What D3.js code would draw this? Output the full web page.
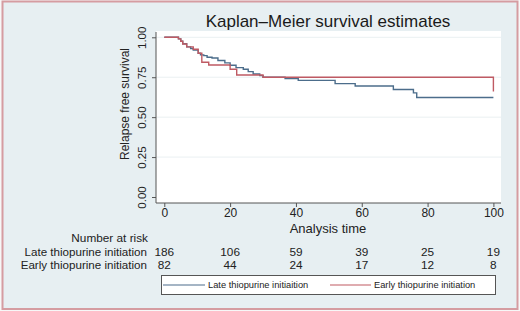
<!DOCTYPE html>
<html>
<head>
<meta charset="utf-8">
<script src="https://cdn.jsdelivr.net/npm/d3@7"></script>
<style>
  html, body { margin: 0; padding: 0; background: #ffffff; }
  svg { display: block; }
  text { font-family: "Liberation Sans", Arial, sans-serif; }
</style>
</head>
<body>
<svg id="chart" width="520" height="311"></svg>
<script>
// ---- Data ----
const title = "Kaplan\u2013Meier survival estimates";
const xTicks = [0, 20, 40, 60, 80, 100];
const yTicks = [0, 0.25, 0.5, 0.75, 1];
const seriesNames = ["Late thiopurine initiaition", "Early thiopurine initiation"];
const riskLabels = ["Late thiopurine initiation", "Early thiopurine initiation"];
const lateAtRisk = [186, 106, 59, 39, 25, 19];
const earlyAtRisk = [82, 44, 24, 17, 12, 8];

const lateTimes = [0, 4.3, 5.0, 5.6, 6.8, 8.0, 8.8, 10.3, 11.0, 12.0, 13.0, 14.5, 16.3, 18.4, 20.0, 21.8, 24.0, 25.5, 27.0, 29.0, 30.0, 36.7, 40.7, 51.9, 58.0, 69.6, 75.7, 76.7, 100];
const lateSurv  = [1.0, 0.99, 0.975, 0.96, 0.94, 0.93, 0.92, 0.90, 0.89, 0.885, 0.875, 0.87, 0.855, 0.84, 0.825, 0.81, 0.80, 0.785, 0.77, 0.76, 0.75, 0.742, 0.73, 0.71, 0.695, 0.673, 0.652, 0.623, 0.623];

const earlyTimes = [0, 4.3, 5.0, 5.6, 6.8, 8.8, 10.3, 11.4, 13.5, 20.0, 22.0, 30.0, 100, 100];
const earlySurv  = [1.0, 0.99, 0.975, 0.958, 0.94, 0.925, 0.90, 0.844, 0.827, 0.80, 0.764, 0.75, 0.75, 0.66];

// ---- Layout ----
const svg = d3.select("#chart");
const W = 520, H = 311;
const plot = { left: 156, right: 501, top: 31, bottom: 203 };

const x = d3.scaleLinear().domain([0, 100]).range([164.3, 493.4]);
const y = d3.scaleLinear().domain([0, 1]).range([197, 37.3]);

// background
svg.append("rect").attr("x", 0).attr("y", 0).attr("width", W).attr("height", H).attr("fill", "#f7f7f7");
svg.append("rect").attr("x", 2.5).attr("y", 1.5).attr("width", 515).attr("height", 307.5)
  .attr("fill", "#e7eff2").attr("stroke", "#d59ca1").attr("stroke-width", 2);

// plot area
svg.append("rect").attr("x", plot.left).attr("y", plot.top)
  .attr("width", plot.right - plot.left).attr("height", plot.bottom - plot.top)
  .attr("fill", "#ffffff");

// gridlines
svg.append("g").selectAll("line").data(yTicks.filter(d => d > 0)).join("line")
  .attr("x1", plot.left).attr("x2", plot.right)
  .attr("y1", d => y(d)).attr("y2", d => y(d))
  .attr("stroke", "#eaf0f2").attr("stroke-width", 1);

// title
svg.append("text").attr("x", 328).attr("y", 26.5).attr("text-anchor", "middle")
  .attr("font-size", 17).attr("fill", "#1a1a1a").text(title);

// y axis
const yAxis = d3.axisLeft(y).tickValues(yTicks).tickFormat(d3.format(".2f")).tickSize(4).tickPadding(3);
const gy = svg.append("g").attr("transform", `translate(${plot.left},0)`).call(yAxis);
gy.select(".domain").attr("d", `M0,${plot.top + 1}V${plot.bottom}`).attr("stroke", "#555");
gy.selectAll(".tick line").attr("stroke", "#555");
gy.selectAll(".tick text")
  .attr("x", 0).attr("y", 0).attr("dy", null)
  .attr("text-anchor", "middle").attr("font-size", 11.5).attr("fill", "#222")
  .attr("transform", "translate(-10.5,0) rotate(-90)");

// x axis
const xAxis = d3.axisBottom(x).tickValues(xTicks).tickSize(4).tickPadding(1);
const gx = svg.append("g").attr("transform", `translate(0,${plot.bottom})`).call(xAxis);
gx.select(".domain").attr("d", `M${plot.left},0H${plot.right}`).attr("stroke", "#555");
gx.selectAll(".tick line").attr("stroke", "#555");
gx.selectAll(".tick text").attr("font-size", 12).attr("fill", "#222");

// axis titles
svg.append("text").attr("transform", "translate(128.5,104) rotate(-90)")
  .attr("text-anchor", "middle").attr("font-size", 12).attr("fill", "#222").text("Relapse free survival");
svg.append("text").attr("x", 328).attr("y", 233).attr("text-anchor", "middle")
  .attr("font-size", 13).attr("fill", "#222").text("Analysis time");

// curves
const line = d3.line().x(d => x(d[0])).y(d => y(d[1])).curve(d3.curveStepAfter);
const lateData = lateTimes.map((t, i) => [t, lateSurv[i]]);
const earlyData = earlyTimes.map((t, i) => [t, earlySurv[i]]);
const colors = ["#4c6d8b", "#bf5a63"];
svg.append("path").datum(lateData).attr("d", line).attr("fill", "none")
  .attr("stroke", colors[0]).attr("stroke-width", 1.4);
svg.append("path").datum(earlyData).attr("d", line).attr("fill", "none")
  .attr("stroke", colors[1]).attr("stroke-width", 1.4);

// number at risk
svg.append("text").attr("x", 148).attr("y", 242.3).attr("text-anchor", "end")
  .attr("font-size", 11.8).attr("fill", "#222").text("Number at risk");
[lateAtRisk, earlyAtRisk].forEach((arr, r) => {
  const yy = 255.6 + r * 13.4;
  svg.append("text").attr("x", 147).attr("y", yy).attr("text-anchor", "end")
    .attr("font-size", 11.6).attr("fill", "#222").text(riskLabels[r]);
  svg.append("g").selectAll("text").data(arr).join("text")
    .attr("x", (d, i) => x(xTicks[i])).attr("y", yy).attr("text-anchor", "middle")
    .attr("font-size", 11.8).attr("fill", "#222").text(d => d);
});

// legend
svg.append("rect").attr("x", 161.5).attr("y", 275.5).attr("width", 334).attr("height", 19)
  .attr("fill", "#ffffff").attr("stroke", "#555").attr("stroke-width", 1);
const leg = [
  { x1: 163, x2: 205, tx: 208 },
  { x1: 330, x2: 371, tx: 374 }
];
leg.forEach((l, i) => {
  svg.append("line").attr("x1", l.x1).attr("x2", l.x2).attr("y1", 285).attr("y2", 285)
    .attr("stroke", colors[i]).attr("stroke-width", 1.2);
  svg.append("text").attr("x", l.tx).attr("y", 288.3).attr("font-size", 9.3)
    .attr("fill", "#222").text(seriesNames[i]);
});
</script>
</body>
</html>
